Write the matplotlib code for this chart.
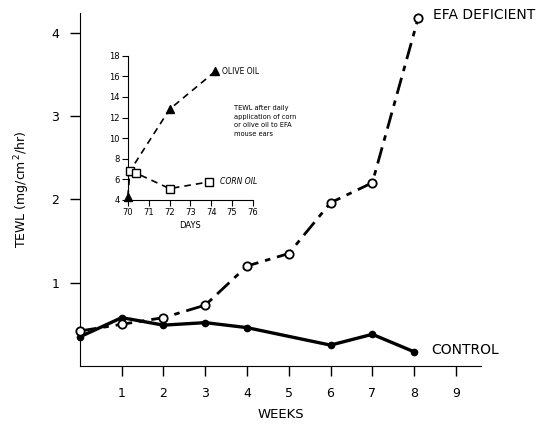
import matplotlib
matplotlib.use("Agg")
import matplotlib.pyplot as plt

# main chart: TEWL by week
weeks_ctrl = [0, 1, 2, 3, 4, 6, 7, 8]
tewl_ctrl = [0.35, 0.58, 0.49, 0.52, 0.46, 0.25, 0.38, 0.17]
weeks_efa = [0, 1, 2, 3, 4, 5, 6, 7, 8.1]
tewl_efa = [0.42, 0.50, 0.58, 0.73, 1.20, 1.35, 1.96, 2.20, 4.18]
week_ticks = [1, 2, 3, 4, 5, 6, 7, 8, 9]
tewl_ticks = [1, 2, 3, 4]

# inset: daily oil application
days_olive = [70, 70.1, 72, 74.2]
tewl_olive = [4.3, 6.8, 12.8, 16.5]
days_corn = [70.1, 70.4, 72, 73.9]
tewl_corn = [6.8, 6.6, 5.1, 5.75]
day_ticks = [70, 71, 72, 73, 74, 75, 76]
inset_yticks = [4, 6, 8, 10, 12, 14, 16, 18]

plt.rcParams['font.family'] = ['DejaVu Sans']

fig = plt.figure(figsize=(5.44, 4.29), dpi=100)
ax = fig.add_axes([0.147, 0.147, 0.737, 0.823])

ax.plot(weeks_ctrl, tewl_ctrl, color='black', lw=2.4, marker='o', ms=4.5,
        mfc='black', mec='black', zorder=3, clip_on=False)
ax.plot(weeks_efa, tewl_efa, color='black', lw=2.0, ls=(0, (6, 2.5, 2, 2.5)),
        marker='o', ms=6, mfc='white', mec='black', mew=1.3, zorder=4,
        clip_on=False)

ax.text(8.45, 4.22, 'EFA DEFICIENT', fontsize=10, va='center', ha='left')
ax.text(8.4, 0.19, 'CONTROL', fontsize=10, va='center', ha='left')

ax.set_xlim(0, 9.6)
ax.set_ylim(0, 4.24)
ax.set_xticks(week_ticks)
ax.set_yticks(tewl_ticks)
ax.tick_params(direction='out', length=7, width=1, labelsize=9, pad=8)
for s in ['top', 'right']:
    ax.spines[s].set_visible(False)
ax.set_xlabel('WEEKS', fontsize=9.5, labelpad=6)
ax.set_ylabel('TEWL (mg/cm$^{\\,2}$/hr)', fontsize=9, labelpad=14)

# inset
ins = fig.add_axes([0.235, 0.534, 0.230, 0.336])
ins.plot(days_olive, tewl_olive, color='black', lw=1.2, ls=(0, (4, 3)),
         marker='^', ms=5.5, mfc='black', mec='black', clip_on=False, zorder=3)
ins.plot(days_corn, tewl_corn, color='black', lw=1.2, ls=(0, (4, 3)),
         marker='s', ms=6, mfc='white', mec='black', mew=1, clip_on=False,
         zorder=4)
ins.set_xlim(70, 76)
ins.set_ylim(4, 18)
ins.set_xticks(day_ticks)
ins.set_yticks(inset_yticks)
ins.tick_params(direction='out', length=4, width=0.8, labelsize=6, pad=2)
for s in ['top', 'right']:
    ins.spines[s].set_visible(False)
ins.patch.set_alpha(0)
ins.set_xlabel('DAYS', fontsize=6, labelpad=3)

ins.text(74.5, 16.5, 'OLIVE OIL', fontsize=5.5, va='center', ha='left')
ins.text(74.4, 5.75, 'CORN OIL', fontsize=5.5, va='center', ha='left', style='italic')
ins.text(75.1, 13.2, 'TEWL after daily\napplication of corn\nor olive oil to EFA\nmouse ears',
         fontsize=4.8, va='top', ha='left', linespacing=1.5)

fig.savefig('out.png', dpi=100)
